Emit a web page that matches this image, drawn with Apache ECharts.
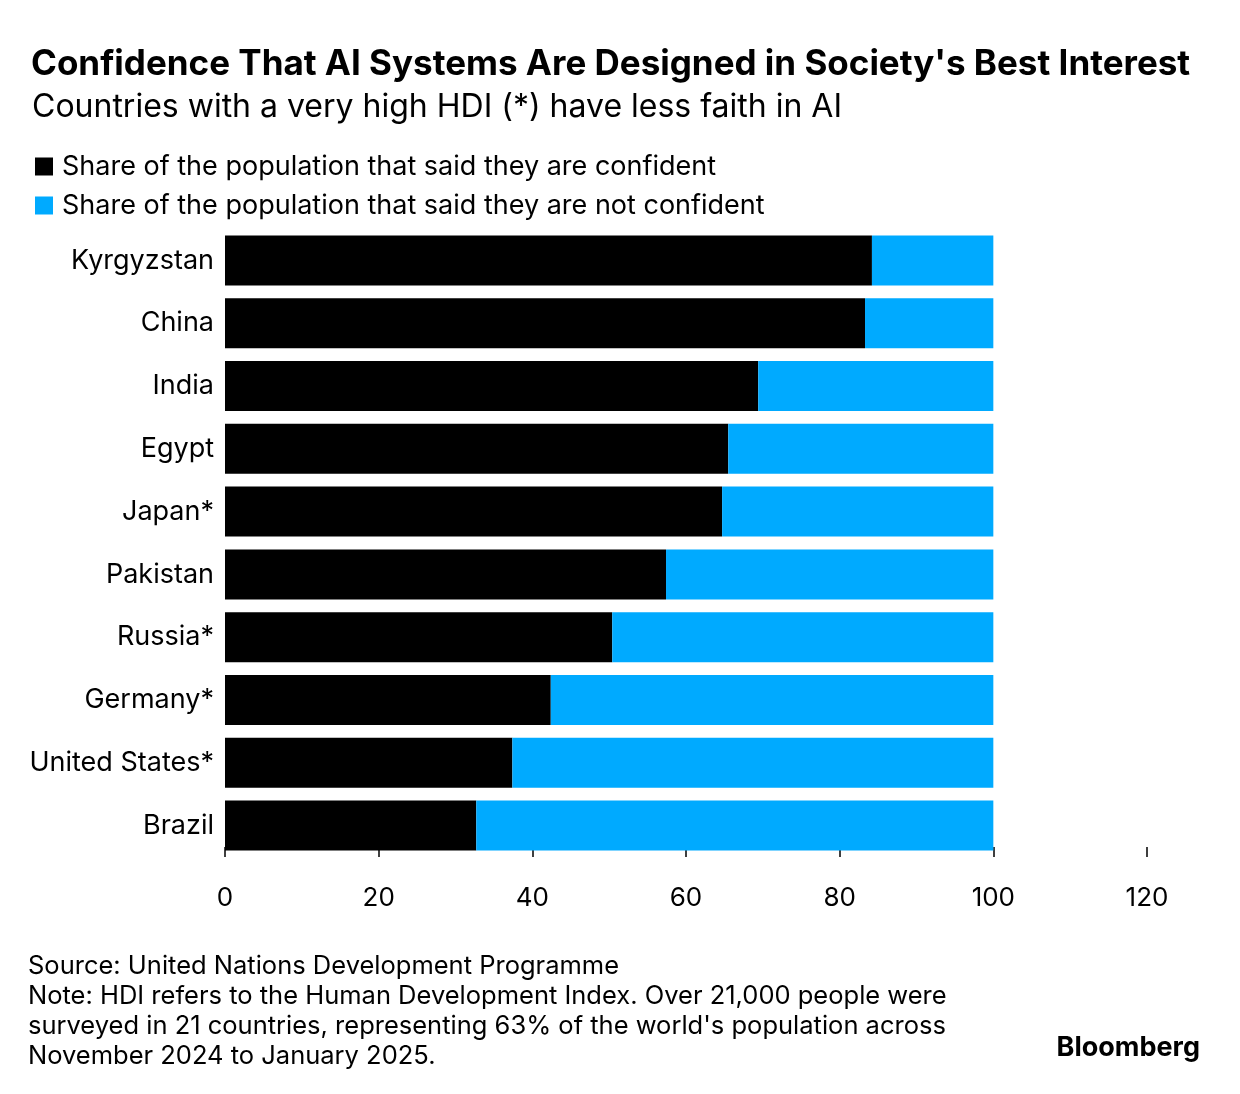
<!DOCTYPE html>
<html>
<head>
<meta charset="utf-8">
<script src="https://cdn.jsdelivr.net/npm/echarts@6/dist/echarts.min.js"></script>
<style>html,body{margin:0;padding:0;background:#fff}#main{width:1240px;height:1094px}</style>
</head>
<body>
<div id="main"></div>
<script>
var countries = ['Kyrgyzstan','China','India','Egypt','Japan*','Pakistan','Russia*','Germany*','United States*','Brazil'];
var confident = [84.2, 83.3, 69.4, 65.5, 64.7, 57.4, 50.4, 42.4, 37.4, 32.7];
var notConfident = [15.8, 16.7, 30.6, 34.5, 35.3, 42.6, 49.6, 57.6, 62.6, 67.3];
var xTicks = [0, 20, 40, 60, 80, 100, 120];

var font = 'Inter, "Noto Sans", sans-serif';
var myChart = echarts.init(document.getElementById('main'));
var option = {
    animation: false,
    textStyle: {fontFamily: font},
    title: [
        {text: "Confidence That AI Systems Are Designed in Society's Best Interest", left: 26, top: 42,
         textStyle: {fontSize: 35, fontWeight: 'bold', color: '#000', fontFamily: font}},
        {text: 'Countries with a very high HDI (*) have less faith in AI', left: 27, top: 86,
         textStyle: {fontSize: 32, fontWeight: 'normal', color: '#000', fontFamily: font}}
    ],
    legend: {
        orient: 'vertical', left: 30, top: 148, itemGap: 12,
        itemWidth: 18, itemHeight: 18, icon: 'rect',
        textStyle: {fontSize: 27, color: '#000', fontFamily: font, padding: [0, 0, 0, 4]},
        data: ['Share of the population that said they are confident', 'Share of the population that said they are not confident']
    },
    grid: {left: 225, right: 93, top: 229, bottom: 237, containLabel: false},
    xAxis: {
        type: 'value', min: 0, max: 120, interval: 20,
        axisLine: {show: false},
        axisTick: {show: true, inside: true, length: 10, lineStyle: {color: '#000', width: 1.5}},
        splitLine: {show: false},
        axisLabel: {fontSize: 26, color: '#000', margin: 28, fontFamily: font,
            formatter: function (v) { return xTicks.indexOf(v) >= 0 ? String(v) : ''; }}
    },
    yAxis: {
        type: 'category', inverse: true, data: countries,
        axisLine: {show: false}, axisTick: {show: false},
        axisLabel: {fontSize: 27, color: '#000', margin: 11, fontFamily: font}
    },
    series: [
        {name: 'Share of the population that said they are confident', type: 'bar', stack: 's',
         barWidth: 50, itemStyle: {color: '#000'}, data: confident},
        {name: 'Share of the population that said they are not confident', type: 'bar', stack: 's',
         barWidth: 50, itemStyle: {color: '#00aaff'}, data: notConfident}
    ],
    graphic: [
        {type: 'text', left: 28, top: 951, style: {text: 'Source: United Nations Development Programme\nNote: HDI refers to the Human Development Index. Over 21,000 people were\nsurveyed in 21 countries, representing 63% of the world\'s population across\nNovember 2024 to January 2025.',
            font: '25.5px ' + font, fill: '#000', lineHeight: 30}},
        {type: 'text', right: 40, top: 1034, style: {text: 'Bloomberg', font: 'bold 27px ' + font, fill: '#000'}}
    ]
};
myChart.setOption(option);
window.onresize = function () { myChart.resize(); };
</script>
</body>
</html>
